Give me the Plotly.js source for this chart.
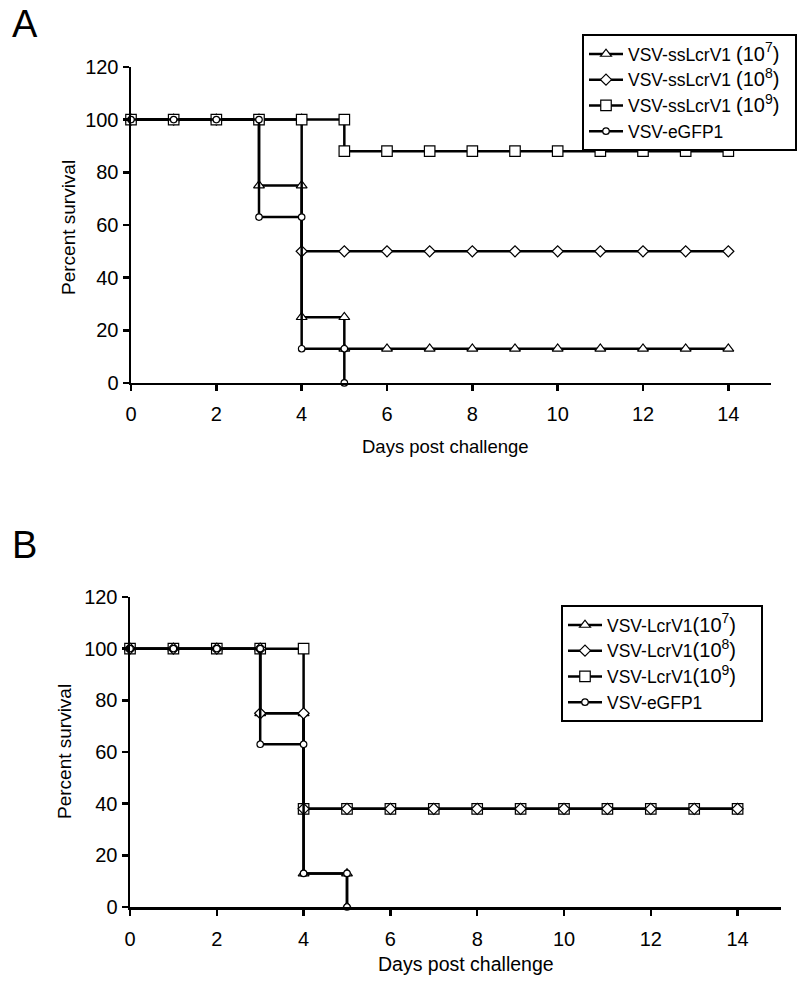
<!DOCTYPE html>
<html>
<head>
<meta charset="utf-8">
<script src="https://cdn.plot.ly/plotly-3.0.1.min.js"></script>
<style>
  body { margin: 0; background: #fff; }
  #plotArea { width: 800px; height: 986px; }
</style>
</head>
<body>
<div id="plotArea"></div>
<script>
// Panel A: VSV-ssLcrV1 doses and control (steps drawn as duplicated days)
var daysA7 = [0, 1, 2, 3, 3, 4, 4, 5, 5, 6, 7, 8, 9, 10, 11, 12, 13, 14];
var survA7 = [100, 100, 100, 100, 75, 75, 25, 25, 13, 13, 13, 13, 13, 13, 13, 13, 13, 13];
var daysA8 = [0, 1, 2, 3, 4, 4, 5, 6, 7, 8, 9, 10, 11, 12, 13, 14];
var survA8 = [100, 100, 100, 100, 100, 50, 50, 50, 50, 50, 50, 50, 50, 50, 50, 50];
var daysA9 = [0, 1, 2, 3, 4, 5, 5, 6, 7, 8, 9, 10, 11, 12, 13, 14];
var survA9 = [100, 100, 100, 100, 100, 100, 88, 88, 88, 88, 88, 88, 88, 88, 88, 88];
var daysAgfp = [0, 1, 2, 3, 3, 4, 4, 5, 5];
var survAgfp = [100, 100, 100, 100, 63, 63, 13, 13, 0];

// Panel B: VSV-LcrV1 doses and control
var daysB7 = [0, 1, 2, 3, 3, 4, 4, 5, 5];
var survB7 = [100, 100, 100, 100, 75, 75, 13, 13, 0];
var daysB8 = [0, 1, 2, 3, 3, 4, 4, 5, 6, 7, 8, 9, 10, 11, 12, 13, 14];
var survB8 = [100, 100, 100, 100, 75, 75, 38, 38, 38, 38, 38, 38, 38, 38, 38, 38, 38];
var daysB9 = [0, 1, 2, 3, 4, 4, 5, 6, 7, 8, 9, 10, 11, 12, 13, 14];
var survB9 = [100, 100, 100, 100, 100, 38, 38, 38, 38, 38, 38, 38, 38, 38, 38, 38];
var daysBgfp = [0, 1, 2, 3, 3, 4, 4, 5, 5];
var survBgfp = [100, 100, 100, 100, 63, 63, 13, 13, 0];

var namesA = ["VSV-ssLcrV1 <span style='font-size:20px'>(10<sup>7</sup>)</span>&nbsp;&nbsp;",
              "VSV-ssLcrV1 <span style='font-size:20px'>(10<sup>8</sup>)</span>&nbsp;&nbsp;",
              "VSV-ssLcrV1 <span style='font-size:20px'>(10<sup>9</sup>)</span>&nbsp;&nbsp;",
              "VSV-eGFP1"];
var namesB = ["VSV-LcrV1<span style='font-size:20px'>(10<sup>7</sup>)</span>&nbsp;&nbsp;&nbsp;&nbsp;",
              "VSV-LcrV1<span style='font-size:20px'>(10<sup>8</sup>)</span>&nbsp;&nbsp;&nbsp;&nbsp;",
              "VSV-LcrV1<span style='font-size:20px'>(10<sup>9</sup>)</span>&nbsp;&nbsp;&nbsp;&nbsp;",
              "VSV-eGFP1"];

var symbols = ["triangle-up", "diamond", "square", "circle"];
var sizes = [9.5, 8.5, 10.5, 6.5];

function curve(x, y, i, name, panel) {
    return {
        x: x,
        y: y,
        name: name,
        mode: "lines+markers",
        type: "scatter",
        xaxis: panel == "A" ? "x" : "x2",
        yaxis: panel == "A" ? "y" : "y2",
        legend: panel == "A" ? "legend" : "legend2",
        legendrank: i + 1,
        cliponaxis: false,
        line: {color: "black", width: 2.5},
        marker: {symbol: symbols[i], size: sizes[i], color: "white",
                 line: {color: "black", width: 1.2}}
    };
}

// in B the diamonds sit on top of the squares, so squares are drawn first
var data = [
    curve(daysA7, survA7, 0, namesA[0], "A"),
    curve(daysA8, survA8, 1, namesA[1], "A"),
    curve(daysA9, survA9, 2, namesA[2], "A"),
    curve(daysAgfp, survAgfp, 3, namesA[3], "A"),
    curve(daysB7, survB7, 0, namesB[0], "B"),
    curve(daysB9, survB9, 2, namesB[2], "B"),
    curve(daysB8, survB8, 1, namesB[1], "B"),
    curve(daysBgfp, survBgfp, 3, namesB[3], "B")
];

var font = {family: "Arial, Liberation Sans, sans-serif", color: "black"};

function xax(dom, anchor) {
    return {
        domain: dom, anchor: anchor, range: [0, 15], tick0: 0, dtick: 2,
        ticks: "outside", ticklen: 6, tickwidth: 2.5, tickcolor: "black",
        ticklabelstandoff: 6,
        showline: true, linewidth: 2.5, linecolor: "black",
        showgrid: false, zeroline: false,
        tickfont: {family: font.family, size: 20, color: "black"}
    };
}
function yax(dom, anchor) {
    return {
        domain: dom, anchor: anchor, range: [0, 120], tick0: 0, dtick: 20,
        ticks: "outside", ticklen: 6, tickwidth: 2.5, tickcolor: "black",
        showline: true, linewidth: 2.5, linecolor: "black",
        showgrid: false, zeroline: false,
        tickfont: {family: font.family, size: 20, color: "black"}
    };
}

var legendStyle = {
    xanchor: "left", yanchor: "top",
    bgcolor: "white", bordercolor: "black", borderwidth: 2,
    font: {family: font.family, size: 17.5, color: "black"},
    itemwidth: 34,
    traceorder: "normal"
};

var layout = {
    width: 800,
    height: 986,
    margin: {l: 0, r: 0, t: 0, b: 0},
    paper_bgcolor: "white",
    plot_bgcolor: "white",
    font: font,
    showlegend: true,
    xaxis: xax([0.16375, 0.96375], "y"),
    yaxis: yax([0.6116, 0.9321], "x"),
    xaxis2: xax([0.1625, 0.97625], "y2"),
    yaxis2: yax([0.0801, 0.3945], "x2"),
    legend: Object.assign({x: 0.7275, y: 0.9655}, legendStyle),
    legend2: Object.assign({x: 0.70125, y: 0.3864}, legendStyle),
    annotations: [
        {text: "A", xref: "paper", yref: "paper", x: 0.0125, y: 1 - 24 / 986,
         xanchor: "left", yanchor: "middle", showarrow: false, font: {size: 38}},
        {text: "B", xref: "paper", yref: "paper", x: 0.0125, y: 1 - 545 / 986,
         xanchor: "left", yanchor: "middle", showarrow: false, font: {size: 38}},
        {text: "Percent survival", xref: "paper", yref: "paper", x: 68 / 800, y: 1 - 228 / 986,
         xanchor: "center", yanchor: "middle", textangle: -90, showarrow: false, font: {size: 19}},
        {text: "Percent survival", xref: "paper", yref: "paper", x: 64 / 800, y: 1 - 752 / 986,
         xanchor: "center", yanchor: "middle", textangle: -90, showarrow: false, font: {size: 19}},
        {text: "Days post challenge", xref: "paper", yref: "paper", x: 445 / 800, y: 1 - 447 / 986,
         xanchor: "center", yanchor: "middle", showarrow: false, font: {size: 18.5}},
        {text: "Days post challenge", xref: "paper", yref: "paper", x: 466 / 800, y: 1 - 964 / 986,
         xanchor: "center", yanchor: "middle", showarrow: false, font: {size: 19.5}}
    ]
};

Plotly.newPlot("plotArea", data, layout, {displayModeBar: false, staticPlot: true});
</script>
</body>
</html>
